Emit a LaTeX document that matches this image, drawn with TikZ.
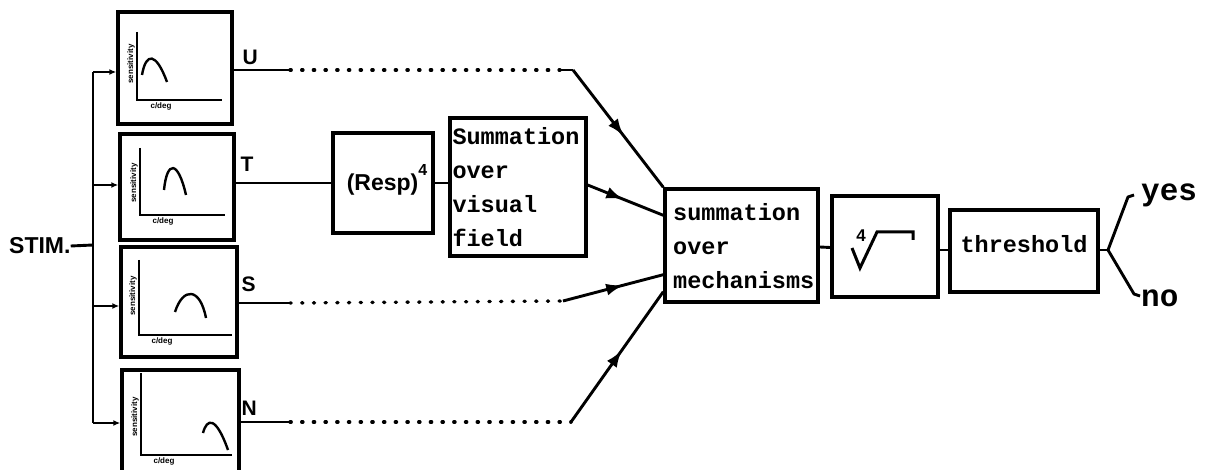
\documentclass[tikz,border=0pt]{standalone}
\usepackage{fontspec}
\setmainfont{Liberation Sans}
\newfontfamily\typefont{Liberation Mono}
\newfontfamily\labfont{Liberation Sans}
\usetikzlibrary{arrows.meta,decorations.markings,calc}

\tikzset{
  box/.style={draw, line width=3.4pt, inner sep=0pt},
  wire/.style={line width=2.9pt},
  dotline/.style={line width=3.4pt, line cap=round, dash pattern=on 1.2pt off 10.5pt},
  curve/.style={line width=2.4pt},
  axis/.style={line width=2pt},
  midarrow/.style={postaction={decorate,decoration={markings,
      mark=at position #1 with {\arrow{Latex[length=17pt,width=12pt]}}}}},
  inarrow/.style={-{Latex[length=7pt,width=6pt]}},
  tw/.style={font=\typefont\bfseries\fontsize{23.5}{34}\selectfont},
  sans/.style={font=\labfont\bfseries\fontsize{21}{22}\selectfont},
  tiny/.style={font=\labfont\bfseries\fontsize{8}{8}\selectfont, inner sep=0pt},
}

\begin{document}
\begin{tikzpicture}[x=1pt, y=-1pt]
\useasboundingbox (0,0) rectangle (1210,470);

% ---- tuning-curve boxes ----
\node[box, minimum width=114pt, minimum height=112pt] (U) at (175,68) {};
\node[box, minimum width=114pt, minimum height=106pt] (T) at (177,187) {};
\node[box, minimum width=116pt, minimum height=110pt] (S) at (179,302) {};
\node[box, minimum width=117pt, minimum height=110pt] (N) at (180.5,425) {};

\node[sans, anchor=west] (lU) at (239,57) {U};
\node[sans, anchor=west] (lT) at (237,164) {T};
\node[sans, anchor=west] (lS) at (238,284) {S};
\node[sans, anchor=west] (lN) at (238,408) {N};

% axes, labels and curves drawn inside each box
\draw[axis] (137,32) -- (137,100) -- (222,100);
\node[tiny, rotate=90] (yU) at (131,64) {sensitivity};
\node[tiny] (xU) at (161,106) {c/deg};
\draw[curve] (142,75) .. controls (146,52) and (156,52) .. (167,82);

\draw[axis] (140,148) -- (140,215) -- (225,215);
\node[tiny, rotate=90] (yT) at (134,183) {sensitivity};
\node[tiny] (xT) at (163,221) {c/deg};
\draw[curve] (164,190) .. controls (167,160) and (178,160) .. (186,195);

\draw[axis] (139,260) -- (139,335) -- (232,335);
\node[tiny, rotate=90] (yS) at (133,296) {sensitivity};
\node[tiny] (xS) at (162,341) {c/deg};
\draw[curve] (175,312) .. controls (183,287) and (200,287) .. (206,318);

\draw[axis] (141,373) -- (141,455) -- (232,455);
\node[tiny, rotate=90] (yN) at (135,417) {sensitivity};
\node[tiny] (xN) at (164,461) {c/deg};
\draw[curve] (203,433) .. controls (207,418) and (216,416) .. (228,450);

% ---- stimulus input bus ----
\node[sans, font=\labfont\bfseries\fontsize{23}{24}\selectfont, anchor=west, inner sep=0pt] (stim) at (9,246) {STIM.};
\coordinate (bU) at (93,72);
\coordinate (bT) at (93,185);
\coordinate (bS) at (93,306);
\coordinate (bN) at (93,423);
\coordinate (bst) at (93,245);
\draw[wire] (bU) -- (bN);
\draw[wire] (stim.east) -- (bst);
\draw[wire, inarrow] (bU) -- (bU -| U.west);
\draw[wire, inarrow] (bT) -- (bT -| T.west);
\draw[wire, inarrow] (bS) -- (bS -| S.west);
\draw[wire, inarrow] (bN) -- (bN -| N.west);

% ---- middle processing chain ----
\node[box, minimum width=100pt, minimum height=100pt] (resp) at (383,183) {};
\node[sans, font=\labfont\bfseries\fontsize{23}{24}\selectfont] (resptxt) at (387,180)
  {(Resp)\raisebox{0.68em}{\fontsize{16}{16}\selectfont 4}};
\node[box, tw, minimum width=136pt, minimum height=138pt, align=left,
      text width=131pt] (vis) at (518,187) {Summation\\over\\visual\\field};
\node[box, minimum width=153pt, minimum height=113pt] (mech) at (741.5,245.5) {};
\node[tw, align=left, anchor=north west, inner sep=0pt] (mechtxt) at (673,203)
  {summation\\over\\mechanisms};
\node[box, minimum width=106pt, minimum height=101pt] (root) at (885,246.5) {};
\draw[line width=3pt] (852,248) -- (860,268) -- (877,232) -- (913,232) -- (913,240);
\node[sans, font=\labfont\bfseries\fontsize{17}{17}\selectfont] (rootidx) at (861,236) {4};
\node[box, minimum width=148pt, minimum height=82pt] (thr) at (1024,251) {};
\node[tw] (thrtxt) at (1024,244) {threshold};

% T channel
\draw[wire] (T.east |- resp.west) -- (resp.west);
\draw[wire] (resp.east) -- (resp.east -| vis.west);
\draw[wire, midarrow=0.47] ($(vis.east)+(0,-2)$) -- ($(mech.north west)+(0,28)$);

% U channel
\coordinate (u1) at (290,70);
\coordinate (u2) at (560,70);
\coordinate (u3) at (573,70);
\draw[wire] (U.east |- u1) -- (u1);
\draw[dotline] (u1) -- (u2);
\draw[wire] (u2) -- (u3);
\draw[wire, midarrow=0.56] (u3) -- (mech.north west);

% S channel
\coordinate (s1) at (290,303);
\coordinate (s2) at (563,301);
\draw[wire] (S.east |- s1) -- (s1);
\draw[dotline] (s1) -- (s2);
\draw[wire, midarrow=0.6] (s2) -- ($(mech.south west)+(0,-29)$);

% N channel
\coordinate (n1) at (290,422);
\coordinate (n2) at (571,422);
\draw[wire] (N.east |- n1) -- (n1);
\draw[dotline] (n1) -- (n2);
\draw[wire, midarrow=0.55] (n2) -- ($(mech.south west)+(0,-12)$);

% output stage
\draw[wire] ($(mech.east)+(0,1.5)$) -- ($(root.west)+(0,1)$);
\draw[wire] ($(root.east)+(0,3.5)$) -- ($(thr.west)+(0,-1)$);

\coordinate (jn) at (1108,250);
\coordinate (ya) at (1128,197);
\coordinate (yb) at (1134,195);
\coordinate (na) at (1134,294);
\coordinate (nb) at (1140,296);
\draw[wire] (thr.east |- jn) -- (jn);
\draw[wire, line join=round] (jn) -- (ya) -- (yb);
\draw[wire, line join=round] (jn) -- (na) -- (nb);
\node[font=\typefont\bfseries\fontsize{31}{31}\selectfont, anchor=base west, inner sep=0pt] (yes) at (1141,201) {yes};
\node[font=\typefont\bfseries\fontsize{31}{31}\selectfont, anchor=base west, inner sep=0pt] (no) at (1141,306) {no};
\end{tikzpicture}
\end{document}
